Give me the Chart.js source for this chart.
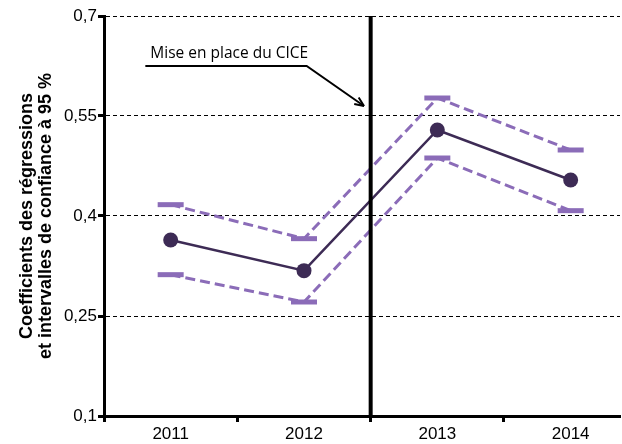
<!DOCTYPE html>
<html lang="fr">
<head>
<meta charset="UTF-8" />
<title>Coefficients CICE</title>
<script src="https://cdn.jsdelivr.net/npm/chart.js"></script>
<style>
  html, body { margin: 0; padding: 0; background: #fff; }
  #wrap { width: 622px; height: 444px; }
</style>
</head>
<body>
<div id="wrap"><canvas id="chartCice"></canvas></div>
<script>
  const annees = ['2011', '2012', '2013', '2014'];
  const coefficients = [0.364, 0.318, 0.529, 0.454];
  const bornesHautes = [0.417, 0.366, 0.577, 0.499];
  const bornesBasses = [0.312, 0.271, 0.487, 0.408];
  const ticksY = [0.1, 0.25, 0.4, 0.55, 0.7];
  const positionCice = 1.5; // entre 2012 et 2013
  const texteCice = 'Mise en place du CICE';

  const violetFonce = '#3d2b55';
  const violetClair = '#8b6cb8';

  const versPoints = arr => arr.map((v, i) => ({ x: i, y: v }));

  // ligne verticale + annotation avec flèche
  const cicePlugin = {
    id: 'cicePlugin',
    afterDatasetsDraw(chart) {
      const { ctx, chartArea, scales: { x, y } } = chart;
      const px = x.getPixelForValue(positionCice);
      ctx.save();
      ctx.strokeStyle = '#000';
      ctx.lineWidth = 4;
      ctx.beginPath();
      ctx.moveTo(px, chartArea.top);
      ctx.lineTo(px, chartArea.bottom + 2);
      ctx.stroke();

      // texte + soulignement + flèche (coordonnées en unités du graphique)
      const x0 = x.getPixelForValue(-0.19), xk = x.getPixelForValue(1.02);
      const yl = y.getPixelForValue(0.625);
      const xt = x.getPixelForValue(1.45), yt = y.getPixelForValue(0.565);
      ctx.fillStyle = '#000';
      ctx.font = '15.5px "Open Sans", sans-serif';
      ctx.textBaseline = 'alphabetic';
      ctx.fillText(texteCice, x0 + 5, yl - 8);
      ctx.lineWidth = 2;
      ctx.beginPath();
      ctx.moveTo(x0, yl);
      ctx.lineTo(xk, yl);
      ctx.lineTo(xt, yt);
      ctx.stroke();
      const ang = Math.atan2(yt - yl, xt - xk);
      ctx.beginPath();
      ctx.moveTo(xt, yt);
      ctx.lineTo(xt - 10 * Math.cos(ang - 0.4), yt - 10 * Math.sin(ang - 0.4));
      ctx.moveTo(xt, yt);
      ctx.lineTo(xt - 10 * Math.cos(ang + 0.4), yt - 10 * Math.sin(ang + 0.4));
      ctx.stroke();
      ctx.restore();
    }
  };

  const ctx = document.getElementById('chartCice').getContext('2d');
  const chart = new Chart(ctx, {
    type: 'line',
    data: {
      datasets: [
        {
          label: 'Coefficients',
          data: versPoints(coefficients),
          borderColor: violetFonce,
          backgroundColor: violetFonce,
          borderWidth: 2.5,
          pointRadius: 7.5,
          pointBorderWidth: 0
        },
        {
          label: 'Borne haute',
          data: versPoints(bornesHautes),
          borderColor: violetClair,
          borderWidth: 3,
          borderDash: [10, 5],
          pointStyle: 'line',
          pointRadius: 13,
          pointBorderWidth: 5,
          pointBorderColor: violetClair
        },
        {
          label: 'Borne basse',
          data: versPoints(bornesBasses),
          borderColor: violetClair,
          borderWidth: 3,
          borderDash: [10, 5],
          pointStyle: 'line',
          pointRadius: 13,
          pointBorderWidth: 5,
          pointBorderColor: violetClair
        }
      ]
    },
    options: {
      responsive: true,
      maintainAspectRatio: false,
      animation: false,
      layout: { autoPadding: false, padding: { top: 16, right: 0, left: 0, bottom: 0 } },
      plugins: { legend: { display: false }, tooltip: { enabled: false } },
      scales: {
        x: {
          type: 'linear',
          min: -0.5,
          max: 3.37,
          afterBuildTicks: s => {
            const t = annees.flatMap((a, i) => [{ value: i - 0.5 }, { value: i }]);
            t.push({ value: s.max });
            s.ticks = t;
          },
          ticks: {
            autoSkip: false,
            maxRotation: 0,
            padding: 2,
            color: '#000',
            font: { family: 'Liberation Sans', size: 17 },
            callback: v => Number.isInteger(v) ? annees[v] : ''
          },
          grid: {
            drawOnChartArea: false,
            tickLength: 6,
            tickWidth: 3,
            tickColor: c => (c.tick && Math.abs(c.tick.value % 1) === 0.5) ? '#000' : 'rgba(0,0,0,0)'
          },
          border: { color: '#000', width: 3 },
          afterFit: s => { s.height = 28; }
        },
        y: {
          min: 0.1,
          max: 0.7,
          afterBuildTicks: s => { s.ticks = ticksY.map(v => ({ value: v })); },
          ticks: {
            padding: 1,
            color: '#000',
            font: { family: 'Liberation Sans', size: 17 },
            callback: v => String(v).replace('.', ',')
          },
          grid: { color: '#000', lineWidth: 1, tickLength: 6, tickWidth: 3, tickColor: '#000' },
          border: { color: '#000', width: 3, dash: [4, 3] },
          title: {
            display: true,
            text: ['Coefficients des régressions', 'et intervalles de confiance à 95 %'],
            color: '#000',
            font: { family: 'Liberation Sans', size: 18, weight: 'bold', lineHeight: 1.05 },
            padding: { top: 18, bottom: 0 }
          },
          afterFit: s => { s.width = 104; }
        }
      }
    },
    plugins: [cicePlugin]
  });
</script>
</body>
</html>
